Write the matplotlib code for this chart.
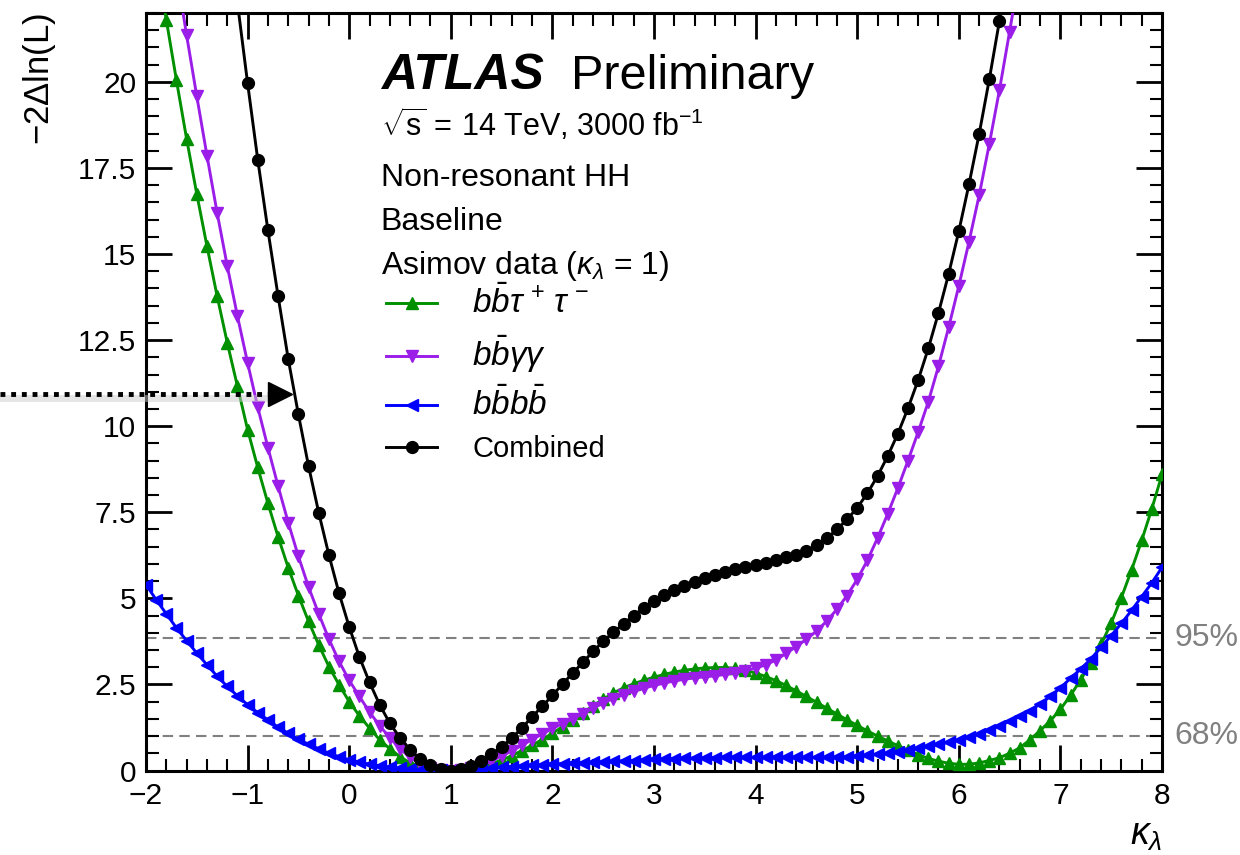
import numpy as np
import matplotlib
matplotlib.use("Agg")
import matplotlib.pyplot as plt
from matplotlib.lines import Line2D
from matplotlib.ticker import MultipleLocator, FuncFormatter
import matplotlib.transforms as mtransforms

plt.rcParams['font.family'] = ['Liberation Sans', 'DejaVu Sans']
plt.rcParams['mathtext.fontset'] = 'custom'
plt.rcParams['mathtext.rm'] = 'Liberation Sans'
plt.rcParams['mathtext.it'] = 'Liberation Sans:italic'
plt.rcParams['mathtext.bf'] = 'Liberation Sans:bold'

# -2 Delta ln(L) scans, kappa_lambda in steps of 0.1
bbtt_start = -1.9
bbtt = [23.6, 21.8, 20.04, 18.34, 16.74, 15.23, 13.78, 12.42, 11.16, 9.90,
        8.80, 7.76, 6.79, 5.89, 5.08, 4.33, 3.65, 3.02, 2.49, 2.00,
        1.59, 1.23, 0.89, 0.63, 0.40, 0.22, 0.10, 0.03, 0.005, 0.0,
        0.01, 0.05, 0.12, 0.20, 0.30, 0.43, 0.58, 0.73, 0.90, 1.08,
        1.27, 1.47, 1.68, 1.88, 2.07, 2.25, 2.40, 2.52, 2.62, 2.71,
        2.79, 2.86, 2.91, 2.95, 2.98, 2.99, 2.99, 2.97, 2.91, 2.83,
        2.73, 2.61, 2.47, 2.31, 2.15, 1.98, 1.81, 1.64, 1.47, 1.31,
        1.15, 1.00, 0.86, 0.72, 0.59, 0.46, 0.35, 0.27, 0.21, 0.18,
        0.18, 0.22, 0.29, 0.37, 0.50, 0.66, 0.89, 1.16, 1.44, 1.78,
        2.18, 2.64, 3.12, 3.66, 4.28, 5.02, 5.82, 6.68, 7.60, 8.60]

bbyy_start = -1.7
bbyy = [23.2, 21.35, 19.58, 17.86, 16.20, 14.65, 13.20, 11.84, 10.55, 9.38,
        8.26, 7.20, 6.22, 5.33, 4.55, 3.82, 3.17, 2.62, 2.15, 1.70,
        1.30, 0.95, 0.63, 0.38, 0.19, 0.07, 0.015, 0.0, 0.02, 0.07,
        0.15, 0.27, 0.42, 0.57, 0.73, 0.90, 1.06, 1.22, 1.36, 1.50,
        1.65, 1.81, 1.96, 2.09, 2.20, 2.30, 2.39, 2.47, 2.54, 2.60,
        2.65, 2.69, 2.72, 2.75, 2.79, 2.84, 2.90, 2.97, 3.07, 3.21,
        3.40, 3.60, 3.81, 4.05, 4.34, 4.68, 5.08, 5.55, 6.10, 6.75,
        7.45, 8.20, 9.00, 9.83, 10.71, 11.74, 12.87, 14.07, 15.35, 16.70,
        18.19, 19.76, 21.46, 23.2]

bbbb_start = -2.0
bbbb = [5.40, 4.96, 4.55, 4.14, 3.77, 3.41, 3.07, 2.74, 2.44, 2.17,
        1.91, 1.68, 1.47, 1.26, 1.08, 0.91, 0.76, 0.63, 0.50, 0.40,
        0.31, 0.24, 0.18, 0.13, 0.09, 0.06, 0.035, 0.018, 0.007, 0.002,
        0.0, 0.004, 0.015, 0.035, 0.06, 0.09, 0.11, 0.13, 0.15, 0.17,
        0.19, 0.20, 0.22, 0.23, 0.24, 0.25, 0.27, 0.28, 0.29, 0.31,
        0.32, 0.33, 0.34, 0.35, 0.36, 0.37, 0.37, 0.38, 0.38, 0.38,
        0.38, 0.38, 0.38, 0.38, 0.38, 0.38, 0.38, 0.38, 0.39, 0.40,
        0.41, 0.44, 0.47, 0.51, 0.55, 0.59, 0.64, 0.70, 0.76, 0.82,
        0.89, 0.97, 1.06, 1.17, 1.30, 1.43, 1.57, 1.74, 1.93, 2.15,
        2.40, 2.68, 2.95, 3.24, 3.58, 3.92, 4.27, 4.65, 5.05, 5.45,
        5.90]

comb_start = -1.1
comb = [22.3, 19.96, 17.74, 15.69, 13.78, 11.95, 10.34, 8.84, 7.49, 6.26,
        5.15, 4.17, 3.30, 2.56, 1.91, 1.37, 0.95, 0.60, 0.33, 0.16,
        0.05, 0.0, 0.05, 0.13, 0.27, 0.47, 0.68, 0.94, 1.23, 1.56,
        1.86, 2.18, 2.51, 2.83, 3.14, 3.46, 3.75, 4.01, 4.26, 4.50,
        4.72, 4.93, 5.09, 5.24, 5.36, 5.48, 5.58, 5.67, 5.77, 5.84,
        5.92, 5.98, 6.04, 6.11, 6.19, 6.27, 6.38, 6.54, 6.74, 7.00,
        7.29, 7.63, 8.05, 8.55, 9.13, 9.78, 10.52, 11.34, 12.26, 13.29,
        14.42, 15.66, 17.02, 18.48, 20.07, 21.77, 23.5]

cl_levels = [1.0, 3.84]
cl_labels = ['68%', '95%']

series = [
    (bbtt_start, bbtt, '#009000', '^', 8.5, r'$b\bar{b}\tau^{\,+}\,\tau^{\,-}$'),
    (bbyy_start, bbyy, '#9b1de8', 'v', 8.5, r'$b\bar{b}\gamma\gamma$'),
    (bbbb_start, bbbb, '#0000ff', '<', 8.5, r'$b\bar{b}b\bar{b}$'),
    (comb_start, comb, 'black', 'o', 8.5, 'Combined'),
]


def kappa_grid(start, vals):
    return np.round(start + 0.1 * np.arange(len(vals)), 1)


W, H = 1240, 855
fig = plt.figure(figsize=(W / 100, H / 100), dpi=100)
ax = fig.add_axes([146 / W, (H - 770.5) / H, 1016 / W, 757.5 / H])

for lev in cl_levels:
    ax.axhline(lev, color='#808080', lw=1.5, ls=(0, (5, 3)), zorder=1)

handles = []
for start, vals, col, mk, ms, lab in series:
    ln, = ax.plot(kappa_grid(start, vals), vals, color=col, lw=2.1,
                  marker=mk, ms=ms, mec=col, mfc=col, zorder=3)
    handles.append(ln)

ax.set_xlim(-2, 8)
ax.set_ylim(0, 22)

ax.xaxis.set_major_locator(MultipleLocator(1))
ax.xaxis.set_minor_locator(MultipleLocator(0.2))
ax.yaxis.set_major_locator(MultipleLocator(2.5))
ax.yaxis.set_minor_locator(MultipleLocator(0.5))
ax.yaxis.set_major_formatter(FuncFormatter(lambda v, p: '%g' % v))
ax.tick_params(which='both', direction='in', top=True, right=True,
               labelsize=21.5)
ax.tick_params(axis='x', which='major', pad=8)
ax.tick_params(axis='y', which='major', pad=7)
ax.tick_params(which='major', length=19, width=2.0)
ax.tick_params(which='minor', length=9, width=1.5)
for sp in ax.spines.values():
    sp.set_linewidth(2.2)

ax.set_xlabel(r'$\kappa_{\lambda}$', fontsize=27, loc='right')
ax.xaxis.set_label_coords(1.0, -0.062)
ax.set_ylabel(r'$-2\Delta$ln(L)', fontsize=25, loc='top')
ax.yaxis.set_label_coords(-0.087, 1.0)

# confidence level labels
trans = mtransforms.blended_transform_factory(ax.transAxes, ax.transData)
for lev, lab in zip(cl_levels, cl_labels):
    ax.text(1.012, lev, lab, transform=trans, color='#808080',
            fontsize=23, va='center', ha='left')

# ATLAS label block
tx = 0.231
ax.text(tx, 0.900, 'ATLAS', transform=ax.transAxes, fontsize=36,
        fontweight='bold', fontstyle='italic', va='baseline')
ax.text(0.418, 0.900, 'Preliminary', transform=ax.transAxes, fontsize=35,
        va='baseline')
ax.text(tx, 0.837, r'$\sqrt{\mathrm{s}}\,=\,$14 TeV, 3000 fb$^{-1}$',
        transform=ax.transAxes, fontsize=22, va='baseline')
ax.text(tx, 0.771, 'Non-resonant HH', transform=ax.transAxes,
        fontsize=23, va='baseline')
ax.text(tx, 0.714, 'Baseline', transform=ax.transAxes, fontsize=23,
        va='baseline')
ax.text(tx, 0.655, r'Asimov data ($\kappa_{\lambda}$ = 1)',
        transform=ax.transAxes, fontsize=23, va='baseline')

leg = ax.legend(handles, [s[5] for s in series], loc='upper left',
                bbox_to_anchor=(0.225, 0.655), frameon=False, fontsize=21,
                handlelength=1.75, handletextpad=1.2, labelspacing=0.45,
                numpoints=1, borderaxespad=0)
for t in leg.get_texts()[:3]:
    t.set_fontsize(24)

# pointer arrow outside the frame
ya = 1 - 394 / H
fig.add_artist(Line2D([0, 268 / W], [ya - 4 / H, ya - 4 / H], color='#cccccc',
                      lw=5, alpha=0.5, transform=fig.transFigure))
fig.add_artist(Line2D([0, 268 / W], [ya, ya], color='black', lw=3.5,
                      ls=(0, (1.0, 1.2)), transform=fig.transFigure))
fig.add_artist(Line2D([280 / W], [ya], color='black', marker='>', ms=17,
                      transform=fig.transFigure))

fig.savefig('out.png', dpi=100)
